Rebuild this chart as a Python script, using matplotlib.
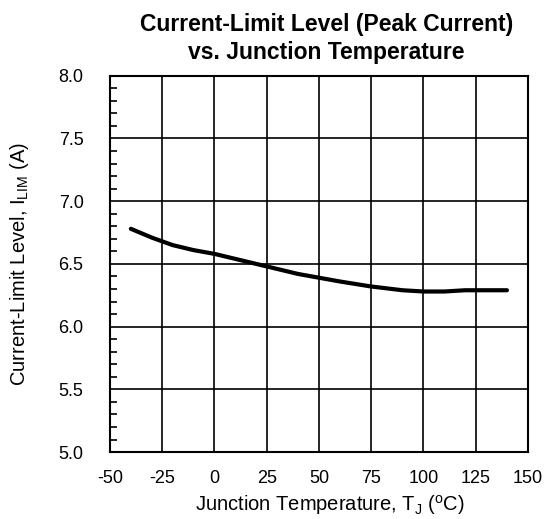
import numpy as np
import matplotlib
matplotlib.use("Agg")
import matplotlib.pyplot as plt
from matplotlib.ticker import MultipleLocator

plt.rcParams['font.family'] = ['Liberation Sans', 'DejaVu Sans']
plt.rcParams['mathtext.fontset'] = 'custom'
plt.rcParams['mathtext.rm'] = 'Liberation Sans'
plt.rcParams['axes.unicode_minus'] = False

# junction temperature (C) and current limit (A)
temp = [-40, -30, -20, -10, 0, 10, 25, 40, 50, 60, 75, 90, 100, 110, 120, 130, 140]
ilim = [6.78, 6.71, 6.65, 6.61, 6.58, 6.54, 6.48, 6.42, 6.39, 6.36, 6.32, 6.29, 6.28, 6.28, 6.29, 6.29, 6.29]

xticks = [-50, -25, 0, 25, 50, 75, 100, 125, 150]
yticks = [5.0, 5.5, 6.0, 6.5, 7.0, 7.5, 8.0]

fig = plt.figure(figsize=(5.47, 5.19), dpi=100)
ax = fig.add_axes([0.201, 0.129, 0.764, 0.725])

ax.plot(temp, ilim, color='black', lw=3, solid_capstyle='round')

ax.set_xlim(-50, 150)
ax.set_ylim(5.0, 8.0)
ax.set_xticks(xticks)
ax.set_yticks(yticks)
ax.set_yticklabels([f"{v:.1f}" for v in yticks])
ax.yaxis.set_minor_locator(MultipleLocator(0.1))
ax.grid(True, which='major', color='black', lw=1.2)
ax.tick_params(axis='y', which='minor', direction='in', length=5, width=1.2)
ax.tick_params(axis='x', which='major', length=0, labelsize=13, pad=13)
ax.tick_params(axis='y', which='major', length=0, labelsize=13, pad=19)
for s in ax.spines.values():
    s.set_linewidth(1.5)

# two-line bold title
fig.text(0.597, 0.940, "Current-Limit Level (Peak Current)", ha='center', va='baseline',
         fontsize=16.5, fontweight='bold')
fig.text(0.597, 0.886, "vs. Junction Temperature", ha='center', va='baseline',
         fontsize=16.5, fontweight='bold')
ax.set_xlabel(r"Junction Temperature, T$_\mathregular{J}$ ($^\mathregular{o}$C)", fontsize=14.5)
ax.set_ylabel(r"Current-Limit Level, I$_\mathregular{LIM}$ (A)", fontsize=14.5)
ax.xaxis.set_label_coords(0.527, -0.11)
ax.yaxis.set_label_coords(-0.19, 0.5)

fig.savefig("out.png", dpi=100)
